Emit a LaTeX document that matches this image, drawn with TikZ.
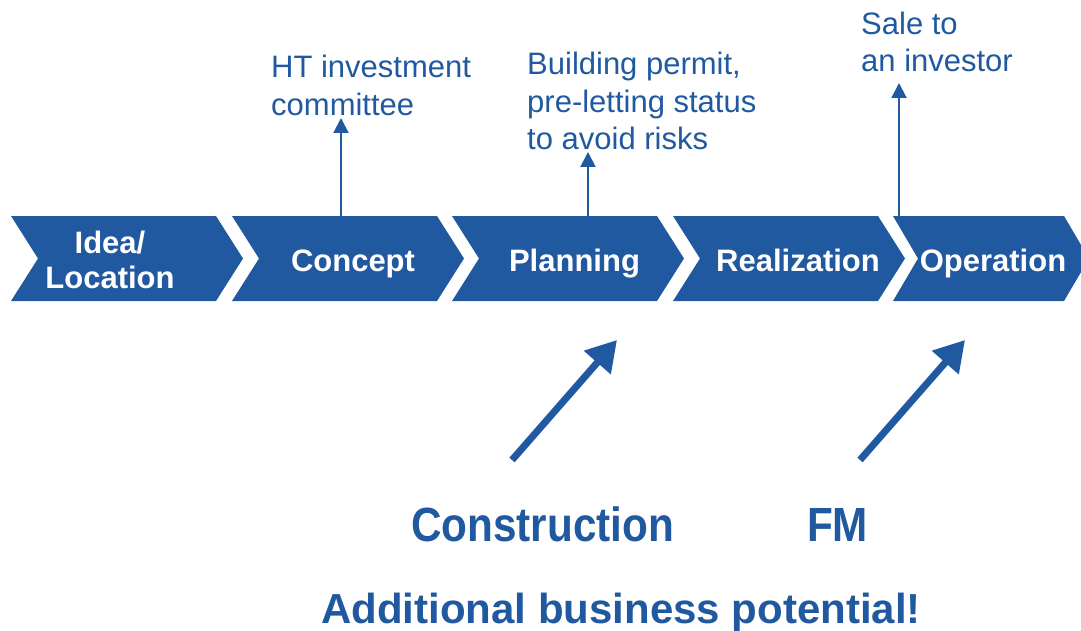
\documentclass[tikz,border=0pt]{standalone}
\usepackage{fontspec}
\setmainfont{Liberation Sans}
\usetikzlibrary{arrows.meta}
\definecolor{hblue}{RGB}{33,89,160}
\begin{document}
\begin{tikzpicture}[x=1pt,y=-1pt,
  chev/.style={fill=hblue},
  steplabel/.style={text=white,font=\fontsize{31}{35}\selectfont\bfseries,inner sep=0pt,align=center,anchor=base},
  note/.style={text=hblue,font=\fontsize{31}{37.5}\selectfont,inner sep=0pt,align=left,anchor=base west},
  big/.style={text=hblue,font=\bfseries,inner sep=0pt,anchor=base},
  uparrow/.style={draw=hblue,line width=2pt,-{Triangle[length=15pt,width=15pt]}},
  fatarrow/.style={draw=hblue,line width=7pt,-{Triangle[length=30pt,width=34pt]}}]
\useasboundingbox (0,0) rectangle (1081,631);
% chevrons
\foreach \L/\W/\d in {11/205/27, 232/205/27, 452/205/27, 673/205/27, 893/171/25}{
  \path[chev] (\L,216) -- ({\L+\W},216) -- ({\L+\W+\d},258.5) -- ({\L+\W},301) -- (\L,301) -- ({\L+\d},258.5) -- cycle;
}
% step labels (base = last line's baseline)
\node[steplabel] (s1) at (110,288) {Idea/\\Location};
\node[steplabel] (s2) at (353,271) {Concept};
\node[steplabel] (s3) at (574.5,271) {Planning};
\node[steplabel] (s4) at (798,271) {Realization};
\node[steplabel] (s5) at (993,271) {Operation};
% notes (base = last line's baseline)
\node[note] (n1) at (271,115.5) {HT investment\\committee};
\node[note] (n2) at (527,150) {Building permit,\\pre-letting status\\to avoid risks};
\node[note] (n3) at (861,72) {Sale to\\an investor};
% vertical connectors
\coordinate (b2) at (341,216);
\coordinate (t2) at (341,118);
\coordinate (b3) at (588,216);
\coordinate (t3) at (588,152);
\coordinate (b5) at (899,216);
\coordinate (t5) at (899,83);
\draw[uparrow] (b2) -- (t2);
\draw[uparrow] (b3) -- (t3);
\draw[uparrow] (b5) -- (t5);
% bottom labels
\node[big,font=\fontsize{48}{50}\selectfont\bfseries] (con) at (542.5,541) {\scalebox{0.88}[1]{Construction}};
\node[big,font=\fontsize{48}{50}\selectfont\bfseries] (fm) at (837.5,541) {\scalebox{0.88}[1]{FM}};
\node[big,font=\fontsize{42}{44}\selectfont\bfseries] (add) at (621,623) {Additional business potential!};
% diagonal arrows
\coordinate (d1s) at (512,460);
\coordinate (d1e) at (617,340);
\coordinate (d2s) at (860,460);
\coordinate (d2e) at (965,340);
\draw[fatarrow] (d1s) -- (d1e);
\draw[fatarrow] (d2s) -- (d2e);
\end{tikzpicture}
\end{document}
